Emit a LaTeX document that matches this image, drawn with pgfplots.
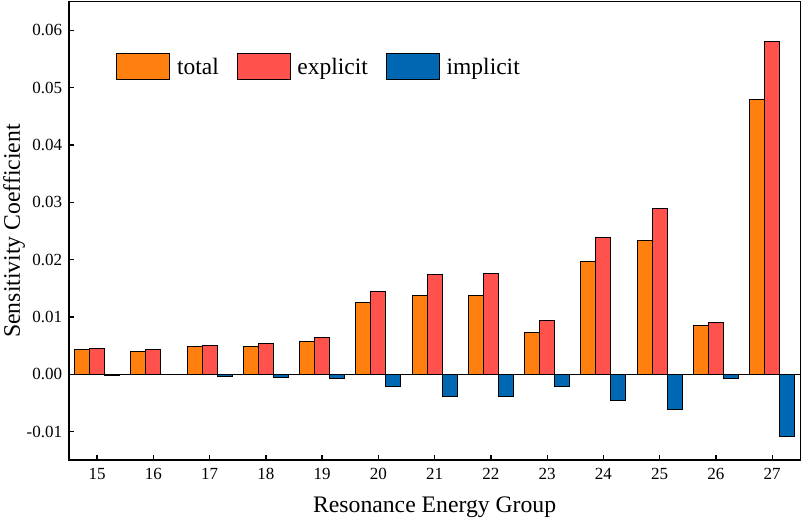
\documentclass[border=0pt]{standalone}
\usepackage{fontspec}
\setmainfont{Liberation Serif}
\usepackage{pgfplots}
\usepackage{pgfplotstable}
\pgfplotsset{compat=1.18}
\definecolor{cTotal}{HTML}{FF800E}
\definecolor{cExp}{HTML}{FF524D}
\definecolor{cImp}{HTML}{0068B2}
\pgfplotstableread{
g total explicit implicit
15 0.0043 0.0045 -0.0002
16 0.0040 0.0043 -0.0001
17 0.0049 0.0051 -0.0004
18 0.0049 0.0054 -0.0006
19 0.0058 0.0064 -0.0007
20 0.0125 0.0144 -0.0021
21 0.0138 0.0174 -0.0038
22 0.0138 0.0175 -0.0039
23 0.0073 0.0093 -0.0022
24 0.0197 0.0238 -0.0045
25 0.0233 0.0290 -0.0061
26 0.0086 0.0090 -0.0007
27 0.0479 0.0580 -0.0109
}\datatable
\begin{document}
\begin{tikzpicture}
\useasboundingbox (0,0) rectangle (803pt,521pt);
\begin{axis}[
  at={(69pt,60.7pt)}, anchor=south west,
  scale only axis, width=731.3pt, height=458.6pt,
  xmin=14.5, xmax=27.5, ymin=-0.015, ymax=0.065,
  ybar, bar width=0.266,
  xtick={15,16,...,27},
  ytick={-0.01,0,0.01,0.02,0.03,0.04,0.05,0.06},
  scaled y ticks=false,
  xtick pos=bottom, ytick pos=left, tick align=inside,
  major tick length=5pt,
  tick style={black, line width=1.3pt},
  axis line style={line width=1.6pt},
  ticklabel style={font=\fontsize{17}{20}\selectfont, inner sep=0pt, /pgf/number format/assume math mode=true},
  x tick label style={anchor=north, yshift=-8pt},
  y tick label style={anchor=east, xshift=-6.7pt},
  yticklabel style={/pgf/number format/fixed, /pgf/number format/fixed zerofill, /pgf/number format/precision=2},
  extra y ticks={0}, extra y tick labels={},
  extra y tick style={grid=major, major grid style={black, line width=1pt}, major tick length=0pt},
  xlabel={Resonance Energy Group},
  ylabel={Sensitivity Coefficient},
  label style={font=\fontsize{23.7}{28}\selectfont},
  xlabel style={at={(axis description cs:0.5,-0.1149)}, anchor=base, inner sep=0pt},
  ylabel style={at={(axis description cs:-0.0903,0.5)}, anchor=north, inner sep=0pt},
  legend columns=3,
  legend style={draw=none, fill=none, inner sep=0pt, outer sep=0pt,
    at={(axis description cs:0.0647,0.8888)}, anchor=north west,
    font=\fontsize{23.5}{28}\selectfont,
    nodes={inner sep=0pt, anchor=base west},
    /tikz/every odd column/.append style={column sep=6.7pt},
    /tikz/every even column/.append style={column sep=18pt}},
]
\addplot[fill=cTotal, draw=black, line width=1pt, bar shift=-0.266,
  legend image code/.code={\draw[fill=cTotal, draw=black, line width=1pt] (0pt,-5pt) rectangle (53pt,21.3pt);}]
  table[x=g, y=total] {\datatable};
\addplot[fill=cExp, draw=black, line width=1pt, bar shift=0,
  legend image code/.code={\draw[fill=cExp, draw=black, line width=1pt] (0pt,-5pt) rectangle (53pt,21.3pt);}]
  table[x=g, y=explicit] {\datatable};
\addplot[fill=cImp, draw=black, line width=1pt, bar shift=0.266,
  legend image code/.code={\draw[fill=cImp, draw=black, line width=1pt] (0pt,-5pt) rectangle (53pt,21.3pt);}]
  table[x=g, y=implicit] {\datatable};
\legend{total, explicit, implicit}
\end{axis}
\end{tikzpicture}
\end{document}
